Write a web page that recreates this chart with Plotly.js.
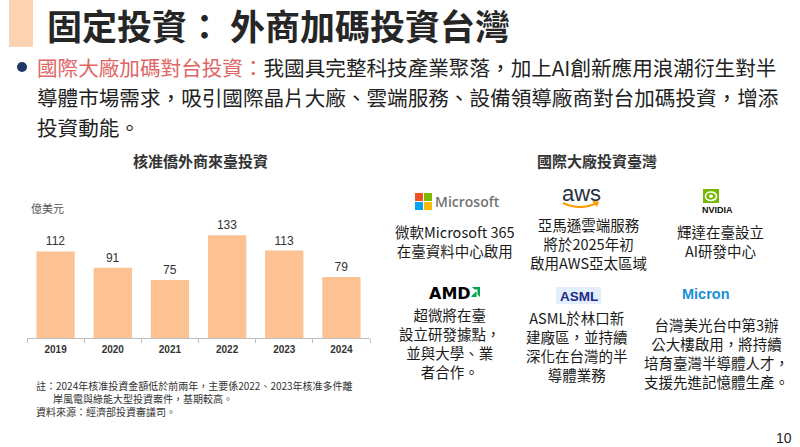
<!DOCTYPE html>
<html><head><meta charset="utf-8">
<script src="https://cdn.plot.ly/plotly-3.0.1.min.js"></script>
<style>html,body{margin:0;padding:0;background:#fff;}#c{width:800px;height:447px;}</style>
</head><body><div id="c"></div>
<script>
// ---- data ----
const years = ['2019','2020','2021','2022','2023','2024'];
const investment = [112, 91, 75, 133, 113, 79]; // 億美元

const slideTitle = '固定投資： 外商加碼投資台灣';
const bulletLines = [
  '<span style="color:#e06666">國際大廠加碼對台投資：</span>我國具完整科技產業聚落，加上AI創新應用浪潮衍生對半',
  '導體市場需求，吸引國際晶片大廠、雲端服務、設備領導廠商對台加碼投資，增添',
  '投資動能。'
];
const chartTitle = '核准僑外商來臺投資';
const unitLabel = '億美元';
const notes = [
  '註：2024年核准投資金額低於前兩年，主要係2022、2023年核准多件離',
  '\u3000\u2002\u2009岸風電與綠能大型投資案件，基期較高。',
  '資料來源：經濟部投資審議司。'
];
const rightTitle = '國際大廠投資臺灣';
const msLines = ['微軟Microsoft 365', '在臺資料中心啟用'];
const awsLines = ['亞馬遜雲端服務', '將於2025年初', '啟用AWS亞太區域'];
const nvLines = ['輝達在臺設立', 'AI研發中心'];
const amdLines = ['超微將在臺', '設立研發據點，', '並與大學、業', '者合作。'];
const asmlLines = ['ASML於林口新', '建廠區，並持續', '深化在台灣的半', '導體業務'];
const micronLines = ['台灣美光台中第3辦', '公大樓啟用，將持續', '培育臺灣半導體人才，', '支援先進記憶體生產。'];

// ---- helpers ----
const W = 800, H = 447;
const CJK = 'Noto Sans CJK TC, Noto Sans, sans-serif';
const fx = x => x / W;
const fy = y => 1 - y / H;
const P = (x, y) => fx(x) + ',' + fy(y);
const ann = [];
const shapes = [];
function T(x, y, text, size, o) {
  o = o || {};
  ann.push({xref:'paper', yref:'paper', x:fx(x), y:fy(y), text:text, showarrow:false,
    xanchor:o.xa || 'center', yanchor:'middle', borderpad:0, align:o.al || 'center',
    font:{family:o.fam || CJK, size:size, color:o.col || '#222', weight:o.w || 'normal'}});
}
function lines(cx, y0, arr, size) {
  const s = 1.3 * size;
  T(cx, y0 + (arr.length - 1) * s / 2, arr.join('<br>'), size, {col:'#1a1a1a'});
}
function rect(x0, y0, x1, y1, fill) {
  shapes.push({type:'rect', xref:'paper', yref:'paper', x0:fx(x0), x1:fx(x1), y0:fy(y1), y1:fy(y0),
    fillcolor:fill, line:{width:0}, layer:'above'});
}
function path(pts, fill, stroke, sw) {
  shapes.push({type:'path', xref:'paper', yref:'paper', path:pts, fillcolor:fill || 'rgba(0,0,0,0)',
    line:{color:stroke || 'rgba(0,0,0,0)', width:sw || 0}, layer:'above'});
}

// title
rect(9, 0, 33, 47, '#fcd3b2');
T(46, 25, '<b>' + slideTitle + '</b>', 35, {xa:'left', col:'#262626'});
// bullet
shapes.push({type:'circle', xref:'paper', yref:'paper', x0:fx(17), x1:fx(27), y0:fy(72), y1:fy(62),
  fillcolor:'#1f3864', line:{width:0}});
T(36, 67, bulletLines[0], 20.6, {xa:'left'});
T(36, 97, bulletLines[1], 20.6, {xa:'left'});
T(36, 127, bulletLines[2], 20.6, {xa:'left'});

// chart text
T(200, 160, '<b>' + chartTitle + '</b>', 15, {col:'#333'});
T(30, 208, unitLabel, 11, {xa:'left', col:'#555'});
T(35, 398, notes.join('<br>'), 10, {xa:'left', al:'left', col:'#333'});

// right panel
T(597, 160, '<b>' + rightTitle + '</b>', 15, {col:'#333'});
// Microsoft logo
rect(415, 193, 423, 201, '#f25022');
rect(424, 193, 432, 201, '#7fba00');
rect(415, 202, 423, 210, '#00a4ef');
rect(424, 202, 432, 210, '#ffb900');
T(434, 202, 'Microsoft', 14, {xa:'left', fam:'Open Sans, sans-serif', col:'#737373', w:600});
lines(455, 232, msLines, 14.5);
// AWS logo
T(581, 193, 'aws', 22, {fam:'Liberation Sans, Arial, sans-serif', col:'#232f3e'});
path('M' + P(563, 203) + ' Q' + P(580, 211) + ' ' + P(597, 203), null, '#ff9900', 2.2);
path('M' + P(592, 201) + ' L' + P(599, 201.5) + ' L' + P(597, 207) + ' Z', '#ff9900');
lines(588, 225, awsLines, 14.5);
// NVIDIA logo
rect(703, 189, 719, 203, '#76b900');
shapes.push({type:'circle', xref:'paper', yref:'paper', x0:fx(705.5), x1:fx(716.5), y0:fy(200.5), y1:fy(192),
  fillcolor:'rgba(0,0,0,0)', line:{color:'#fff', width:1.6}, layer:'above'});
shapes.push({type:'circle', xref:'paper', yref:'paper', x0:fx(709), x1:fx(713), y0:fy(198), y1:fy(194.5),
  fillcolor:'#fff', line:{width:0}, layer:'above'});
T(717, 210, 'NVIDIA', 9, {fam:'Liberation Sans, Arial, sans-serif', col:'#111', w:'bold'});
lines(720, 232, nvLines, 14.5);
// AMD logo
T(450, 293, 'AMD', 16, {fam:'DejaVu Sans, sans-serif', col:'#000', w:'bold'});
path('M' + P(472, 287) + ' L' + P(480, 287) + ' L' + P(480, 297) + ' L' + P(477.5, 294.5) + ' L' + P(477.5, 289.5) + ' L' + P(474.5, 289.5) + ' Z', '#00a651');
path('M' + P(476.5, 291) + ' L' + P(476.5, 297) + ' L' + P(471.5, 297) + ' L' + P(471.5, 296) + ' Z', '#00a651');
lines(450, 315, amdLines, 14.5);
// ASML logo
rect(556, 287, 601, 304, '#e4eefa');
T(578.5, 296, 'ASML', 13.5, {fam:'Liberation Sans, Arial, sans-serif', col:'#1b2a8a', w:'bold'});
lines(577, 318, asmlLines, 14.5);
// Micron logo
T(706, 294, 'Micron', 14.5, {fam:'Liberation Sans, Arial, sans-serif', col:'#1a8fd6', w:'bold'});
lines(716, 325, micronLines, 14.5);

// page number
T(784, 438, '10', 14, {fam:'Liberation Sans, Arial, sans-serif', col:'#222'});

const trace = {
  type:'bar', x:years, y:investment,
  marker:{color:'#fdc294'},
  text:investment.map(String), textposition:'outside', cliponaxis:false,
  textfont:{family:'Liberation Sans, Arial, sans-serif', size:12, color:'#333'},
  hoverinfo:'none'
};

const layout = {
  width:W, height:H, margin:{l:0, r:0, t:0, b:0},
  paper_bgcolor:'#fff', plot_bgcolor:'rgba(0,0,0,0)',
  showlegend:false, bargap:0.33,
  xaxis:{domain:[fx(27), fx(370)], type:'category', showline:true, linecolor:'#bfbfbf', linewidth:1,
    ticks:'outside', tickson:'boundaries', ticklen:4, tickcolor:'#bfbfbf', showgrid:false, zeroline:false,
    tickfont:{family:'Liberation Sans, Arial, sans-serif', size:10, color:'#333', weight:'bold'}, ticklabelstandoff:2},
  yaxis:{domain:[fy(338), fy(222)], range:[0, 150], visible:false, fixedrange:true},
  annotations:ann, shapes:shapes
};

Plotly.newPlot('c', [trace], layout, {staticPlot:true, displayModeBar:false});
</script>
</body></html>
